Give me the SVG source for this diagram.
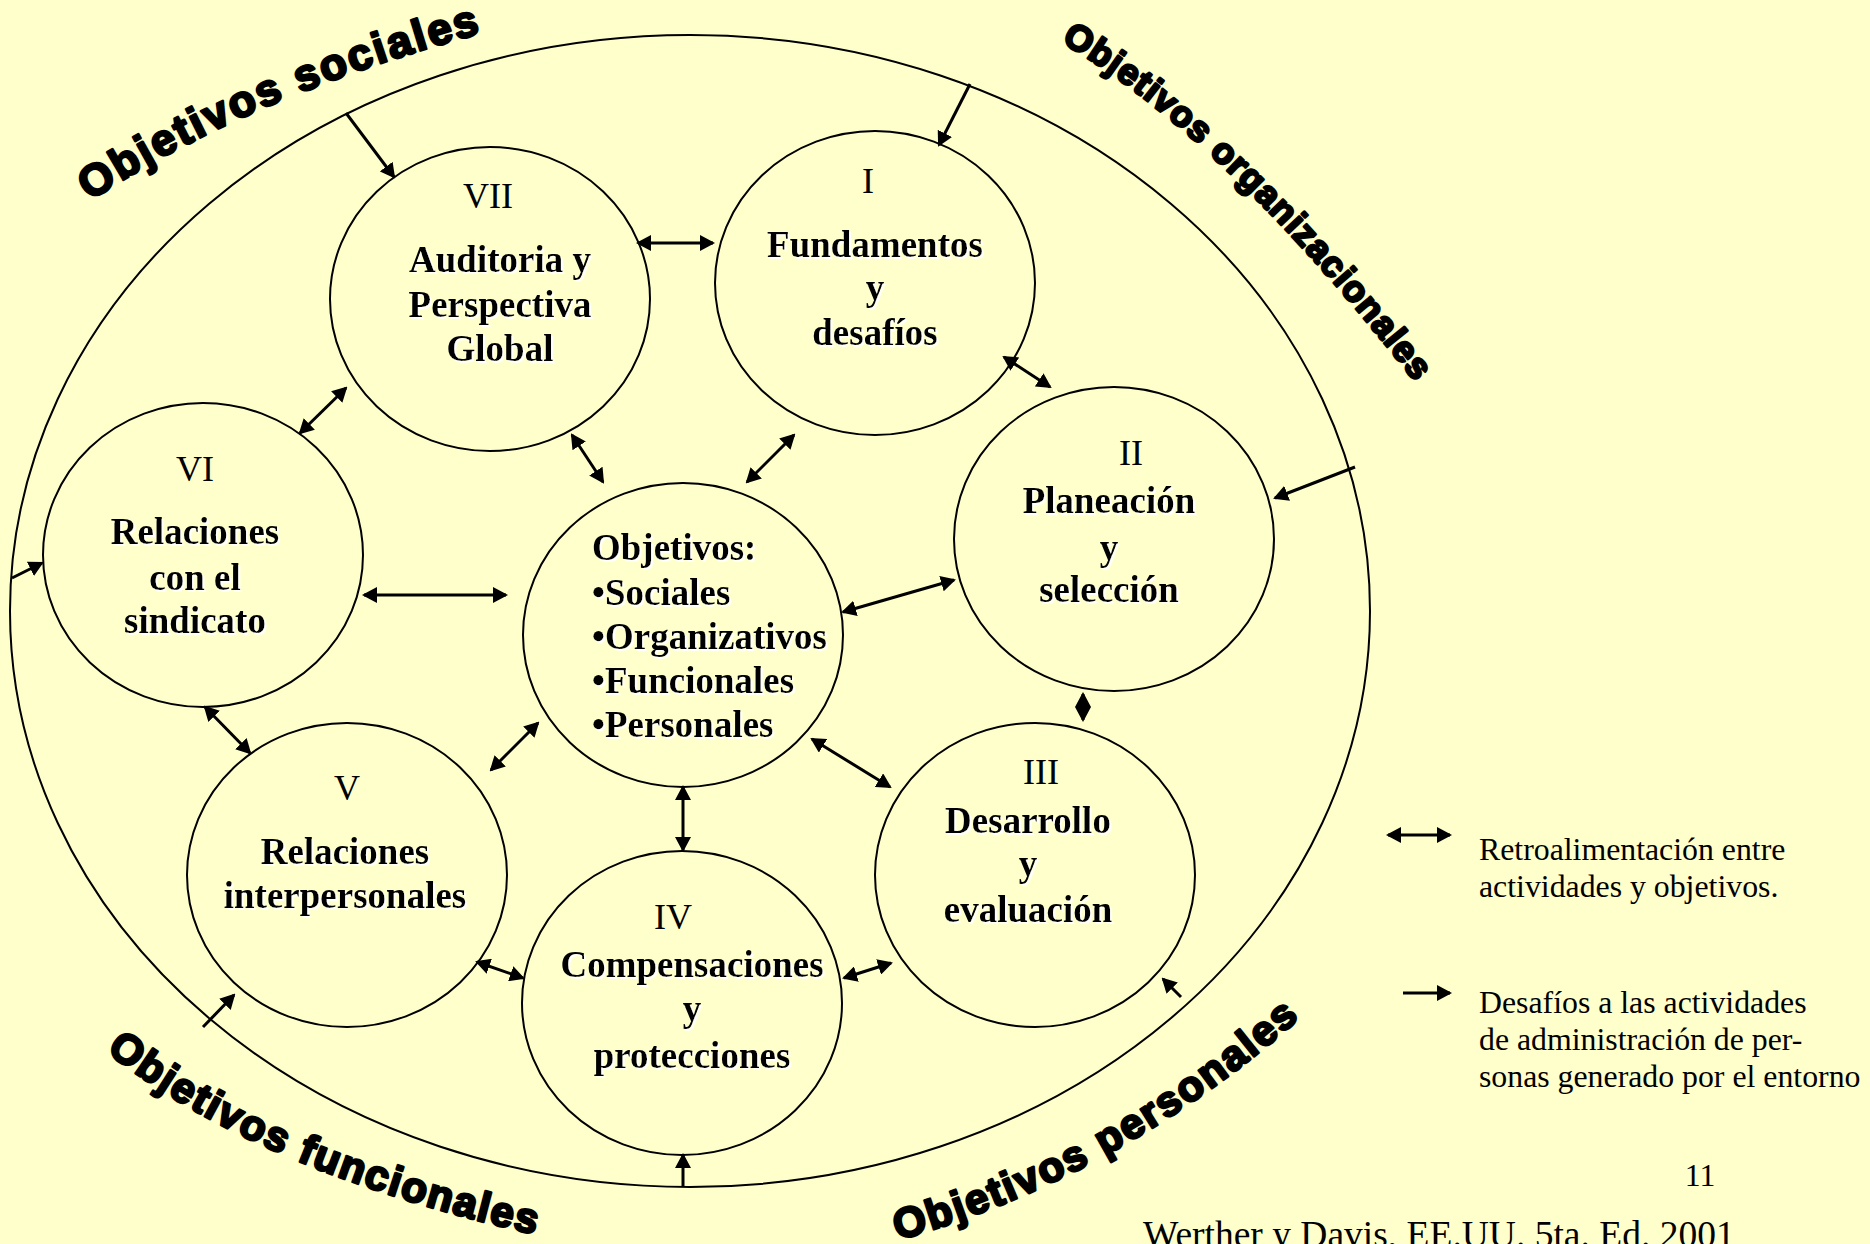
<svg xmlns="http://www.w3.org/2000/svg" width="1870" height="1244" viewBox="0 0 1870 1244">
  <style>
    .node ellipse { fill: none; stroke: #000; stroke-width: 2; }
    .num { font-family: "Liberation Serif", "Times New Roman", serif; font-size: 36px; text-anchor: middle; fill: #000; }
    .lbl { font-family: "Liberation Serif", "Times New Roman", serif; font-size: 37px; font-weight: bold; text-anchor: middle; fill: #000; filter: url(#sh); }
    .lbl.left { text-anchor: start; }
    .ring { font-family: "Liberation Sans", Arial, sans-serif; font-weight: bold; fill: #000; stroke: #000; stroke-width: 2.6; stroke-linejoin: round; }
    .conn line { stroke: #000; stroke-width: 3; fill: none; }
    .both { marker-start: url(#head); marker-end: url(#head); }
    .one { marker-end: url(#head); }
    .note { font-family: "Liberation Serif", "Times New Roman", serif; font-size: 31.8px; fill: #000; }
    .cite { font-family: "Liberation Serif", "Times New Roman", serif; font-size: 37.5px; fill: #000; }
  </style>
  <defs>
    <marker id="head" viewBox="0 0 15 16" refX="13" refY="8" markerWidth="15" markerHeight="16" markerUnits="userSpaceOnUse" orient="auto-start-reverse">
      <path d="M0,0 L15,8 L0,16 z" fill="#000"/>
    </marker>
    <filter id="sh" x="-5%" y="-20%" width="110%" height="140%">
      <feDropShadow dx="2" dy="2" stdDeviation="0.4" flood-color="#ffffff" flood-opacity="0.9"/>
    </filter>
    <!-- baselines for the curved ring labels -->
    <path id="pSoc" d="M90,201 Q255,92 500,28"/>
    <path id="pOrg" d="M1061,42 Q1227,138 1425,395"/>
    <path id="pFun" d="M106,1051 Q260,1175 560,1240"/>
    <path id="pPer" d="M898,1240 Q1130,1175 1320,1000"/>
  </defs>

  <rect width="1870" height="1244" fill="#ffffcc"/>

  <!-- outer environment ring -->
  <ellipse id="environment" cx="690" cy="611" rx="680" ry="576" fill="none" stroke="#000" stroke-width="2"/>

  <!-- ring labels -->
  <g id="ring-labels" class="ring">
    <text font-size="44" letter-spacing="2.4"><textPath href="#pSoc">Objetivos sociales</textPath></text>
    <text font-size="36" letter-spacing="1.1"><textPath href="#pOrg">Objetivos organizacionales</textPath></text>
    <text font-size="42" letter-spacing="1.7"><textPath href="#pFun">Objetivos funcionales</textPath></text>
    <text font-size="42" letter-spacing="2.0"><textPath href="#pPer">Objetivos personales</textPath></text>
  </g>

  <!-- activity nodes -->
  <g id="node-vii" class="node">
    <ellipse cx="490" cy="299" rx="160" ry="152"/>
    <text class="num" x="488" y="208">VII</text>
    <text class="lbl" x="500" y="272">Auditoria y</text>
    <text class="lbl" x="500" y="317">Perspectiva</text>
    <text class="lbl" x="500" y="361">Global</text>
  </g>
  <g id="node-i" class="node">
    <ellipse cx="875" cy="283" rx="160" ry="152"/>
    <text class="num" x="868" y="193">I</text>
    <text class="lbl" x="875" y="257">Fundamentos</text>
    <text class="lbl" x="875" y="300">y</text>
    <text class="lbl" x="875" y="345">desafíos</text>
  </g>
  <g id="node-ii" class="node">
    <ellipse cx="1114" cy="539" rx="160" ry="152"/>
    <text class="num" x="1131" y="465">II</text>
    <text class="lbl" x="1109" y="513">Planeación</text>
    <text class="lbl" x="1109" y="560">y</text>
    <text class="lbl" x="1109" y="602">selección</text>
  </g>
  <g id="node-iii" class="node">
    <ellipse cx="1035" cy="875" rx="160" ry="152"/>
    <text class="num" x="1041" y="784">III</text>
    <text class="lbl" x="1028" y="833">Desarrollo</text>
    <text class="lbl" x="1028" y="876">y</text>
    <text class="lbl" x="1028" y="922">evaluación</text>
  </g>
  <g id="node-iv" class="node">
    <ellipse cx="682" cy="1003" rx="160" ry="152"/>
    <text class="num" x="673" y="929">IV</text>
    <text class="lbl" x="692" y="977">Compensaciones</text>
    <text class="lbl" x="692" y="1021">y</text>
    <text class="lbl" x="692" y="1068">protecciones</text>
  </g>
  <g id="node-v" class="node">
    <ellipse cx="347" cy="875" rx="160" ry="152"/>
    <text class="num" x="347" y="800">V</text>
    <text class="lbl" x="345" y="864">Relaciones</text>
    <text class="lbl" x="345" y="908">interpersonales</text>
  </g>
  <g id="node-vi" class="node">
    <ellipse cx="203" cy="555" rx="160" ry="152"/>
    <text class="num" x="195" y="481">VI</text>
    <text class="lbl" x="195" y="544">Relaciones</text>
    <text class="lbl" x="195" y="590">con el</text>
    <text class="lbl" x="195" y="633">sindicato</text>
  </g>
  <g id="node-objetivos" class="node">
    <ellipse cx="683" cy="635" rx="160" ry="152"/>
    <text class="lbl left" x="592" y="560">Objetivos:</text>
    <text class="lbl left" x="592" y="605">•Sociales</text>
    <text class="lbl left" x="592" y="649">•Organizativos</text>
    <text class="lbl left" x="592" y="693">•Funcionales</text>
    <text class="lbl left" x="592" y="737">•Personales</text>
  </g>

  <!-- connectors -->
  <g id="connectors" class="conn">
    <!-- feedback between activities and objectives -->
    <line class="both" x1="638" y1="243" x2="713" y2="243"/>
    <line class="both" x1="1004" y1="357" x2="1050" y2="387"/>
    <line class="both" x1="572" y1="435" x2="603" y2="482"/>
    <line class="both" x1="794" y1="435" x2="747" y2="482"/>
    <line class="both" x1="346" y1="388" x2="300" y2="433"/>
    <line class="both" x1="364" y1="595" x2="506" y2="595"/>
    <line class="both" x1="954" y1="580" x2="843" y2="612"/>
    <line class="both" x1="1083" y1="694" x2="1083" y2="720"/>
    <line class="both" x1="812" y1="739" x2="890" y2="787"/>
    <line class="both" x1="205" y1="707" x2="250" y2="753"/>
    <line class="both" x1="538" y1="723" x2="491" y2="770"/>
    <line class="both" x1="683" y1="787" x2="683" y2="850"/>
    <line class="both" x1="477" y1="962" x2="523" y2="978"/>
    <line class="both" x1="844" y1="978" x2="891" y2="963"/>
    <!-- challenges from the environment -->
    <line class="one" x1="346" y1="113" x2="394" y2="177"/>
    <line class="one" x1="970" y1="84" x2="939" y2="145"/>
    <line class="one" x1="1355" y1="467" x2="1275" y2="498"/>
    <line class="one" x1="1181" y1="997" x2="1163" y2="979"/>
    <line class="one" x1="683" y1="1186" x2="683" y2="1155"/>
    <line class="one" x1="203" y1="1027" x2="234" y2="995"/>
    <line class="one" x1="12" y1="578" x2="42" y2="563"/>
  </g>

  <!-- legend -->
  <g id="legend">
    <g class="conn">
      <line class="both" x1="1388" y1="835" x2="1450" y2="835"/>
      <line class="one" x1="1403" y1="993" x2="1450" y2="993"/>
    </g>
    <text class="note" x="1479" y="860">Retroalimentación entre</text>
    <text class="note" x="1479" y="897">actividades y objetivos.</text>
    <text class="note" x="1479" y="1013">Desafíos a las actividades</text>
    <text class="note" x="1479" y="1050">de administración de per-</text>
    <text class="note" x="1479" y="1087">sonas generado por el entorno</text>
  </g>

  <text class="note" x="1700" y="1186" text-anchor="middle">11</text>
  <text class="cite" x="1143" y="1247">Werther y Davis, EE.UU. 5ta. Ed. 2001</text>
</svg>
